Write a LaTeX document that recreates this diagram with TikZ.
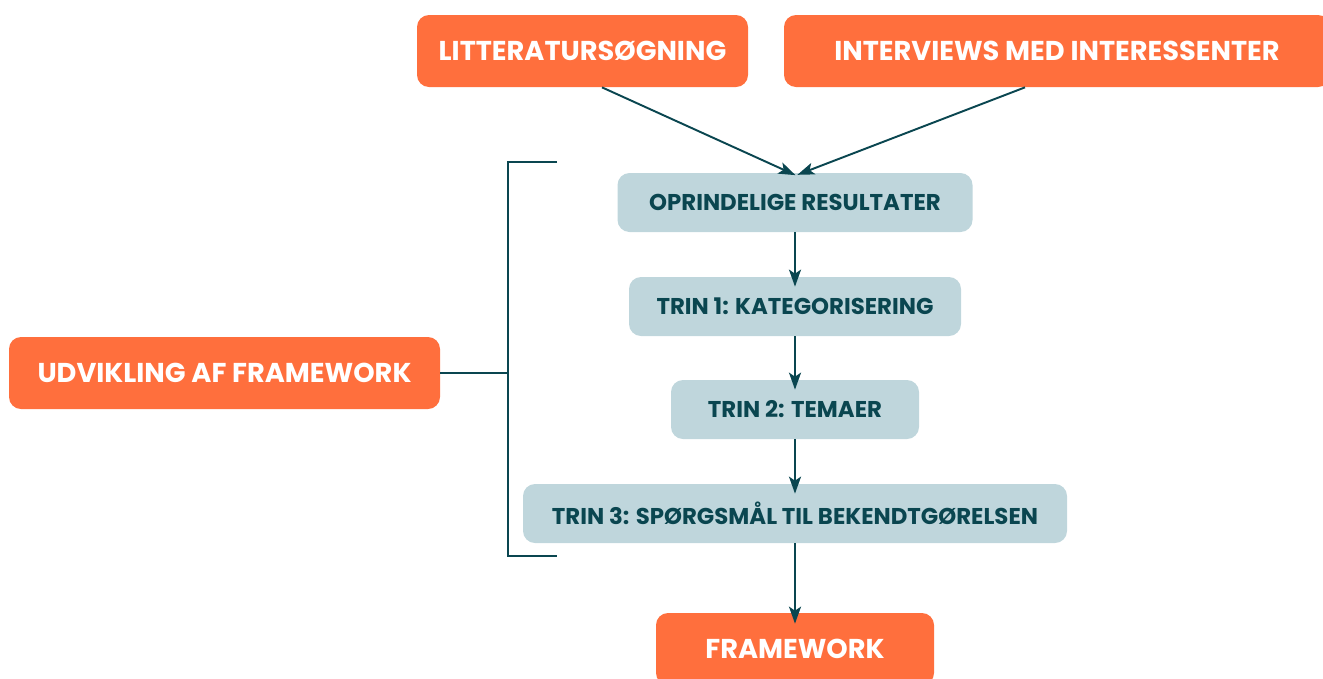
\documentclass[tikz,border=0pt]{standalone}
\usepackage{fontspec}
\setmainfont{Poppins}
\usetikzlibrary{positioning}
\usetikzlibrary{arrows.meta}

\definecolor{orangefill}{RGB}{255,111,61}
\definecolor{bluefill}{RGB}{191,214,220}
\definecolor{darkteal}{RGB}{10,70,80}

\tikzset{
	orangebox/.style={fill=orangefill,rounded corners=0.24cm,text=white,font=\bfseries\fontsize{15.5}{18}\selectfont,minimum height=1.44cm,inner sep=0},
	bluebox/.style={fill=bluefill,rounded corners=0.24cm,text=darkteal,font=\bfseries\fontsize{13}{15}\selectfont,minimum height=1.18cm,inner sep=0},
	flow/.style={darkteal,line width=1.1pt,-{Stealth[length=0.34cm,width=0.24cm,inset=0.08cm]}},
	bracket/.style={darkteal,line width=1.1pt}
}

\begin{document}
\begin{tikzpicture}
	\useasboundingbox (0,0) rectangle (26.46,-13.56);
	
	\node[orangebox,minimum width=6.62cm] (litt) at (11.65,-1.02) {LITTERATURSØGNING};
	\node[orangebox,minimum width=10.92cm] (interv) at (21.14,-1.02) {INTERVIEWS MED INTERESSENTER};
	
	\node[bluebox,minimum width=7.1cm] (oprind) at (15.9,-4.05) {OPRINDELIGE RESULTATER};
	\node[bluebox,minimum width=6.64cm] (trinA) at (15.9,-6.13) {TRIN 1: KATEGORISERING};
	\node[bluebox,minimum width=4.96cm] (trinB) at (15.9,-8.19) {TRIN 2: TEMAER};
	\node[bluebox,minimum width=10.88cm] (trinC) at (15.9,-10.27) {TRIN 3: SPØRGSMÅL TIL BEKENDTGØRELSEN};
	
	\node[orangebox,minimum width=5.56cm] (frame) at (15.9,-12.98) {FRAMEWORK};
	\node[orangebox,minimum width=8.62cm] (udv) at (4.49,-7.46) {UDVIKLING AF FRAMEWORK};
	
	% bracket round the steps
	\coordinate (brtop) at (11.14,-3.24);
	\coordinate (brbot) at (11.14,-11.12);
	\draw[bracket] (brtop) -- ++(-0.98,0) |- (brbot);
	\draw[bracket] (udv.east) -- (udv.east -| 10.16,0);
	
	\draw[flow,shorten >=-0.12cm] ([xshift=0.39cm]litt.south) -- ([xshift=-0.1cm]oprind.north);
	\draw[flow,shorten >=-0.12cm] ([xshift=-0.64cm]interv.south) -- ([xshift=0.16cm]oprind.north);
	\draw[flow,shorten >=-0.2cm] (oprind) -- (trinA);
	\draw[flow,shorten >=-0.2cm] (trinA) -- (trinB);
	\draw[flow,shorten >=-0.2cm] (trinB) -- (trinC);
	\draw[flow,shorten >=-0.22cm] (trinC) -- (frame);
\end{tikzpicture}
\end{document}
